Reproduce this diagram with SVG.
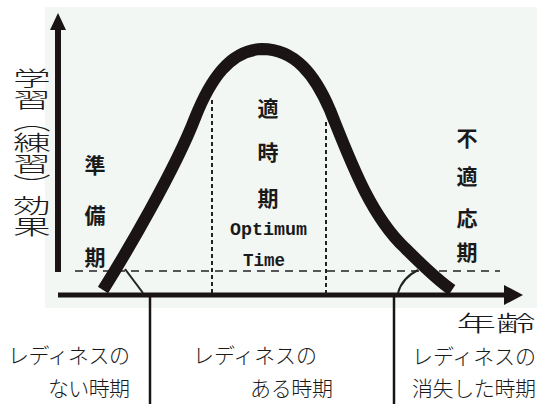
<svg xmlns="http://www.w3.org/2000/svg" width="537" height="404" viewBox="0 0 537 404">
<style>
.jp{font-family:"Noto Sans CJK JP","Noto Sans CJK SC",sans-serif;fill:#1a1a1a}
.lbl{font-size:21px;font-weight:300}
.bold{font-size:21px;font-weight:bold;text-anchor:middle}
.ax{font-size:21px;font-weight:300;text-anchor:middle}
.en{font-family:"Liberation Mono",monospace;font-weight:bold;font-size:19px;fill:#1a1a1a}
.dash{stroke:#222;stroke-width:1.6;stroke-dasharray:8 6;fill:none}
.vdash{stroke:#222;stroke-width:2;stroke-dasharray:4 3;fill:none}
</style>
<rect x="0" y="0" width="537" height="404" fill="#ffffff"/>
<rect x="45" y="7" width="492" height="301" fill="#f2f7f3"/>
<g id="axes">
<line x1="58" y1="28" x2="58" y2="272" stroke="#1a1414" stroke-width="6"/>
<polygon points="58,13 66,30 50,30" fill="#1a1414"/>
<line x1="58" y1="295" x2="508" y2="295" stroke="#1a1414" stroke-width="5"/>
<polygon points="523,295 504,285 504,305" fill="#1a1414"/>
</g>
<g id="connectors">
<line class="dash" x1="75" y1="271" x2="500" y2="271"/>
<line class="vdash" x1="212" y1="100" x2="212" y2="294"/>
<line class="vdash" x1="326" y1="122" x2="326" y2="294"/>
<path d="M125,269 L143,293" stroke="#222" stroke-width="2" fill="none"/>
<path d="M418,270 Q402,278 398,293" stroke="#222" stroke-width="2" fill="none"/>
<line x1="150" y1="297" x2="150" y2="404" stroke="#1a1414" stroke-width="2.5"/>
<line x1="394" y1="297" x2="394" y2="404" stroke="#1a1414" stroke-width="2.5"/>
</g>
<g id="curve">
<path d="M103,290 C125,255 175,170 195,118 C210,80 230,50 262,49 C295,49 315,75 330,110 C350,160 370,215 405,248 C425,268 440,282 452,290" stroke="#1a1414" stroke-width="12" fill="none" stroke-linecap="butt"/>
</g>
<g id="ylabel">
<text class="jp" font-size="21" font-weight="300" writing-mode="vertical-rl" transform="translate(32,0) scale(1.8,1)" x="0" y="68"><tspan x="0" y="68">学習</tspan><tspan x="0" y="111">（練習）</tspan><tspan x="0" y="195">効果</tspan></text>
</g>
<g id="xlabel" class="jp ax">
<text transform="translate(496,331) scale(1.8,1)" font-size="22">年齢</text>
</g>
<g id="prep" class="jp bold">
<text x="95" y="173">準</text>
<text x="95" y="223">備</text>
<text x="95" y="265">期</text>
</g>
<g id="optimum">
<text class="jp bold" x="268" y="116">適</text>
<text class="jp bold" x="268" y="160">時</text>
<text class="jp bold" x="268" y="206">期</text>
<text class="en" x="230" y="235" textLength="77" lengthAdjust="spacingAndGlyphs">Optimum</text>
<text class="en" x="243" y="266" textLength="42" lengthAdjust="spacingAndGlyphs">Time</text>
</g>
<g id="unfit" class="jp bold">
<text x="467" y="146">不</text>
<text x="467" y="184">適</text>
<text x="467" y="226">応</text>
<text x="467" y="260">期</text>
</g>
<g id="period1" class="jp lbl">
<text x="8" y="363" textLength="122">レディネスの</text>
<text x="48" y="396" textLength="82">ない時期</text>
</g>
<g id="period2" class="jp lbl">
<text x="193" y="363" textLength="124">レディネスの</text>
<text x="250" y="396" textLength="83">ある時期</text>
</g>
<g id="period3" class="jp lbl">
<text x="412" y="364" textLength="124">レディネスの</text>
<text x="412" y="396" textLength="124">消失した時期</text>
</g>
</svg>
